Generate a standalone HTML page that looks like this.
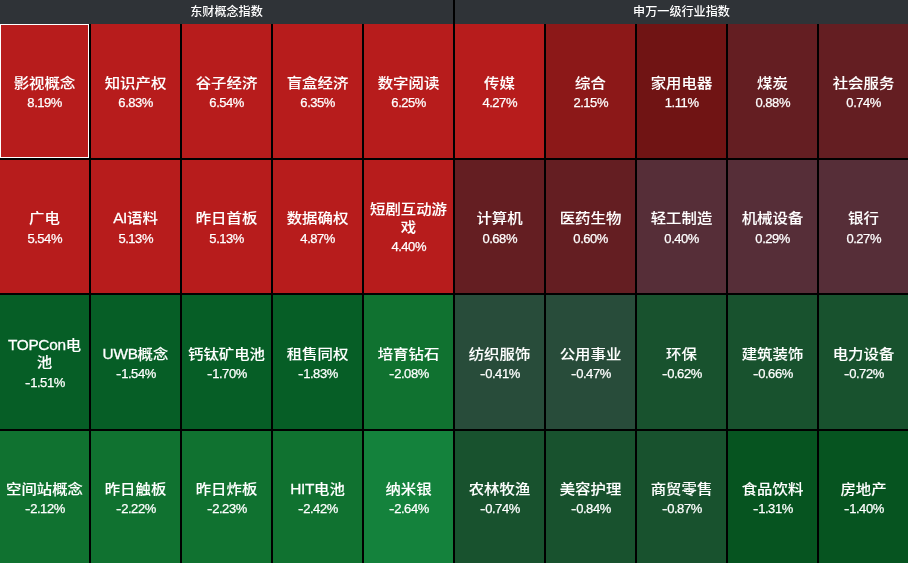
<!DOCTYPE html>
<html lang="zh-CN"><head><meta charset="utf-8"><title>指数热力图</title>
<style>
html,body{margin:0;padding:0;background:#000;}
body{width:908px;height:563px;position:relative;overflow:hidden;font-family:"Liberation Sans","Noto Sans CJK SC",sans-serif;color:#fff;}
.h{position:absolute;top:0;height:24px;width:453px;background:#2f3337;text-align:center;font-size:12.1px;line-height:24px;color:#fff;font-weight:500;}
.c{position:absolute;width:89px;box-sizing:border-box;display:flex;align-items:center;justify-content:center;text-align:center;}
.sel{border:1px solid #fff;}
.n{font-size:15.4px;white-space:nowrap;font-weight:500;-webkit-text-stroke:0.1px #fff;}
.n span{display:block;height:17.5px;line-height:17.5px;transform:translateY(0.7px) scaleY(0.9);}
.p{font-size:13px;line-height:17.2px;white-space:nowrap;position:relative;top:3px;-webkit-text-stroke:0.25px #fff;letter-spacing:-0.45px;left:0.2px;}
.n b{font-weight:normal;-webkit-text-stroke:0.3px #fff;letter-spacing:-0.3px;}
.m{display:inline-block;width:5.6px;transform:scaleX(1.25);text-align:center;letter-spacing:0;}
</style></head><body>
<div class="h" style="left:0">东财概念指数</div>
<div class="h" style="left:455px">申万一级行业指数</div>
<div class="c sel" style="left:0px;top:24px;height:134px;background:#b71c1c"><div class="t"><div class="n"><span>影视概念</span></div><div class="p">8.19%</div></div></div>
<div class="c" style="left:91px;top:24px;height:134px;background:#b71c1c"><div class="t"><div class="n"><span>知识产权</span></div><div class="p">6.83%</div></div></div>
<div class="c" style="left:182px;top:24px;height:134px;background:#b71c1c"><div class="t"><div class="n"><span>谷子经济</span></div><div class="p">6.54%</div></div></div>
<div class="c" style="left:273px;top:24px;height:134px;background:#b71c1c"><div class="t"><div class="n"><span>盲盒经济</span></div><div class="p">6.35%</div></div></div>
<div class="c" style="left:364px;top:24px;height:134px;background:#b71c1c"><div class="t"><div class="n"><span>数字阅读</span></div><div class="p">6.25%</div></div></div>
<div class="c" style="left:455px;top:24px;height:134px;background:#b71c1c"><div class="t"><div class="n"><span>传媒</span></div><div class="p">4.27%</div></div></div>
<div class="c" style="left:546px;top:24px;height:134px;background:#8c1818"><div class="t"><div class="n"><span>综合</span></div><div class="p">2.15%</div></div></div>
<div class="c" style="left:637px;top:24px;height:134px;background:#701414"><div class="t"><div class="n"><span>家用电器</span></div><div class="p">1.11%</div></div></div>
<div class="c" style="left:728px;top:24px;height:134px;background:#641e22"><div class="t"><div class="n"><span>煤炭</span></div><div class="p">0.88%</div></div></div>
<div class="c" style="left:819px;top:24px;height:134px;background:#641e22"><div class="t"><div class="n"><span>社会服务</span></div><div class="p">0.74%</div></div></div>
<div class="c" style="left:0px;top:160px;height:133px;background:#b71c1c"><div class="t"><div class="n"><span>广电</span></div><div class="p">5.54%</div></div></div>
<div class="c" style="left:91px;top:160px;height:133px;background:#b71c1c"><div class="t"><div class="n"><span><b>AI</b>语料</span></div><div class="p">5.13%</div></div></div>
<div class="c" style="left:182px;top:160px;height:133px;background:#b71c1c"><div class="t"><div class="n"><span>昨日首板</span></div><div class="p">5.13%</div></div></div>
<div class="c" style="left:273px;top:160px;height:133px;background:#b71c1c"><div class="t"><div class="n"><span>数据确权</span></div><div class="p">4.87%</div></div></div>
<div class="c" style="left:364px;top:160px;height:133px;background:#b71c1c"><div class="t"><div class="n"><span>短剧互动游</span><span>戏</span></div><div class="p">4.40%</div></div></div>
<div class="c" style="left:455px;top:160px;height:133px;background:#641e22"><div class="t"><div class="n"><span>计算机</span></div><div class="p">0.68%</div></div></div>
<div class="c" style="left:546px;top:160px;height:133px;background:#641e22"><div class="t"><div class="n"><span>医药生物</span></div><div class="p">0.60%</div></div></div>
<div class="c" style="left:637px;top:160px;height:133px;background:#562e38"><div class="t"><div class="n"><span>轻工制造</span></div><div class="p">0.40%</div></div></div>
<div class="c" style="left:728px;top:160px;height:133px;background:#562e38"><div class="t"><div class="n"><span>机械设备</span></div><div class="p">0.29%</div></div></div>
<div class="c" style="left:819px;top:160px;height:133px;background:#562e38"><div class="t"><div class="n"><span>银行</span></div><div class="p">0.27%</div></div></div>
<div class="c" style="left:0px;top:295px;height:134px;background:#065e26"><div class="t"><div class="n"><span><b>TOPCon</b>电</span><span>池</span></div><div class="p"><span class="m">-</span>1.51%</div></div></div>
<div class="c" style="left:91px;top:295px;height:134px;background:#065e26"><div class="t"><div class="n"><span><b>UWB</b>概念</span></div><div class="p"><span class="m">-</span>1.54%</div></div></div>
<div class="c" style="left:182px;top:295px;height:134px;background:#065e26"><div class="t"><div class="n"><span>钙钛矿电池</span></div><div class="p"><span class="m">-</span>1.70%</div></div></div>
<div class="c" style="left:273px;top:295px;height:134px;background:#065e26"><div class="t"><div class="n"><span>租售同权</span></div><div class="p"><span class="m">-</span>1.83%</div></div></div>
<div class="c" style="left:364px;top:295px;height:134px;background:#107230"><div class="t"><div class="n"><span>培育钻石</span></div><div class="p"><span class="m">-</span>2.08%</div></div></div>
<div class="c" style="left:455px;top:295px;height:134px;background:#284c3a"><div class="t"><div class="n"><span>纺织服饰</span></div><div class="p"><span class="m">-</span>0.41%</div></div></div>
<div class="c" style="left:546px;top:295px;height:134px;background:#284c3a"><div class="t"><div class="n"><span>公用事业</span></div><div class="p"><span class="m">-</span>0.47%</div></div></div>
<div class="c" style="left:637px;top:295px;height:134px;background:#18522e"><div class="t"><div class="n"><span>环保</span></div><div class="p"><span class="m">-</span>0.62%</div></div></div>
<div class="c" style="left:728px;top:295px;height:134px;background:#18522e"><div class="t"><div class="n"><span>建筑装饰</span></div><div class="p"><span class="m">-</span>0.66%</div></div></div>
<div class="c" style="left:819px;top:295px;height:134px;background:#18522e"><div class="t"><div class="n"><span>电力设备</span></div><div class="p"><span class="m">-</span>0.72%</div></div></div>
<div class="c" style="left:0px;top:431px;height:132px;background:#107230"><div class="t"><div class="n"><span>空间站概念</span></div><div class="p"><span class="m">-</span>2.12%</div></div></div>
<div class="c" style="left:91px;top:431px;height:132px;background:#107230"><div class="t"><div class="n"><span>昨日触板</span></div><div class="p"><span class="m">-</span>2.22%</div></div></div>
<div class="c" style="left:182px;top:431px;height:132px;background:#107230"><div class="t"><div class="n"><span>昨日炸板</span></div><div class="p"><span class="m">-</span>2.23%</div></div></div>
<div class="c" style="left:273px;top:431px;height:132px;background:#107230"><div class="t"><div class="n"><span><b>HIT</b>电池</span></div><div class="p"><span class="m">-</span>2.42%</div></div></div>
<div class="c" style="left:364px;top:431px;height:132px;background:#14823c"><div class="t"><div class="n"><span>纳米银</span></div><div class="p"><span class="m">-</span>2.64%</div></div></div>
<div class="c" style="left:455px;top:431px;height:132px;background:#18522e"><div class="t"><div class="n"><span>农林牧渔</span></div><div class="p"><span class="m">-</span>0.74%</div></div></div>
<div class="c" style="left:546px;top:431px;height:132px;background:#18522e"><div class="t"><div class="n"><span>美容护理</span></div><div class="p"><span class="m">-</span>0.84%</div></div></div>
<div class="c" style="left:637px;top:431px;height:132px;background:#18522e"><div class="t"><div class="n"><span>商贸零售</span></div><div class="p"><span class="m">-</span>0.87%</div></div></div>
<div class="c" style="left:728px;top:431px;height:132px;background:#065420"><div class="t"><div class="n"><span>食品饮料</span></div><div class="p"><span class="m">-</span>1.31%</div></div></div>
<div class="c" style="left:819px;top:431px;height:132px;background:#065420"><div class="t"><div class="n"><span>房地产</span></div><div class="p"><span class="m">-</span>1.40%</div></div></div>
</body></html>
